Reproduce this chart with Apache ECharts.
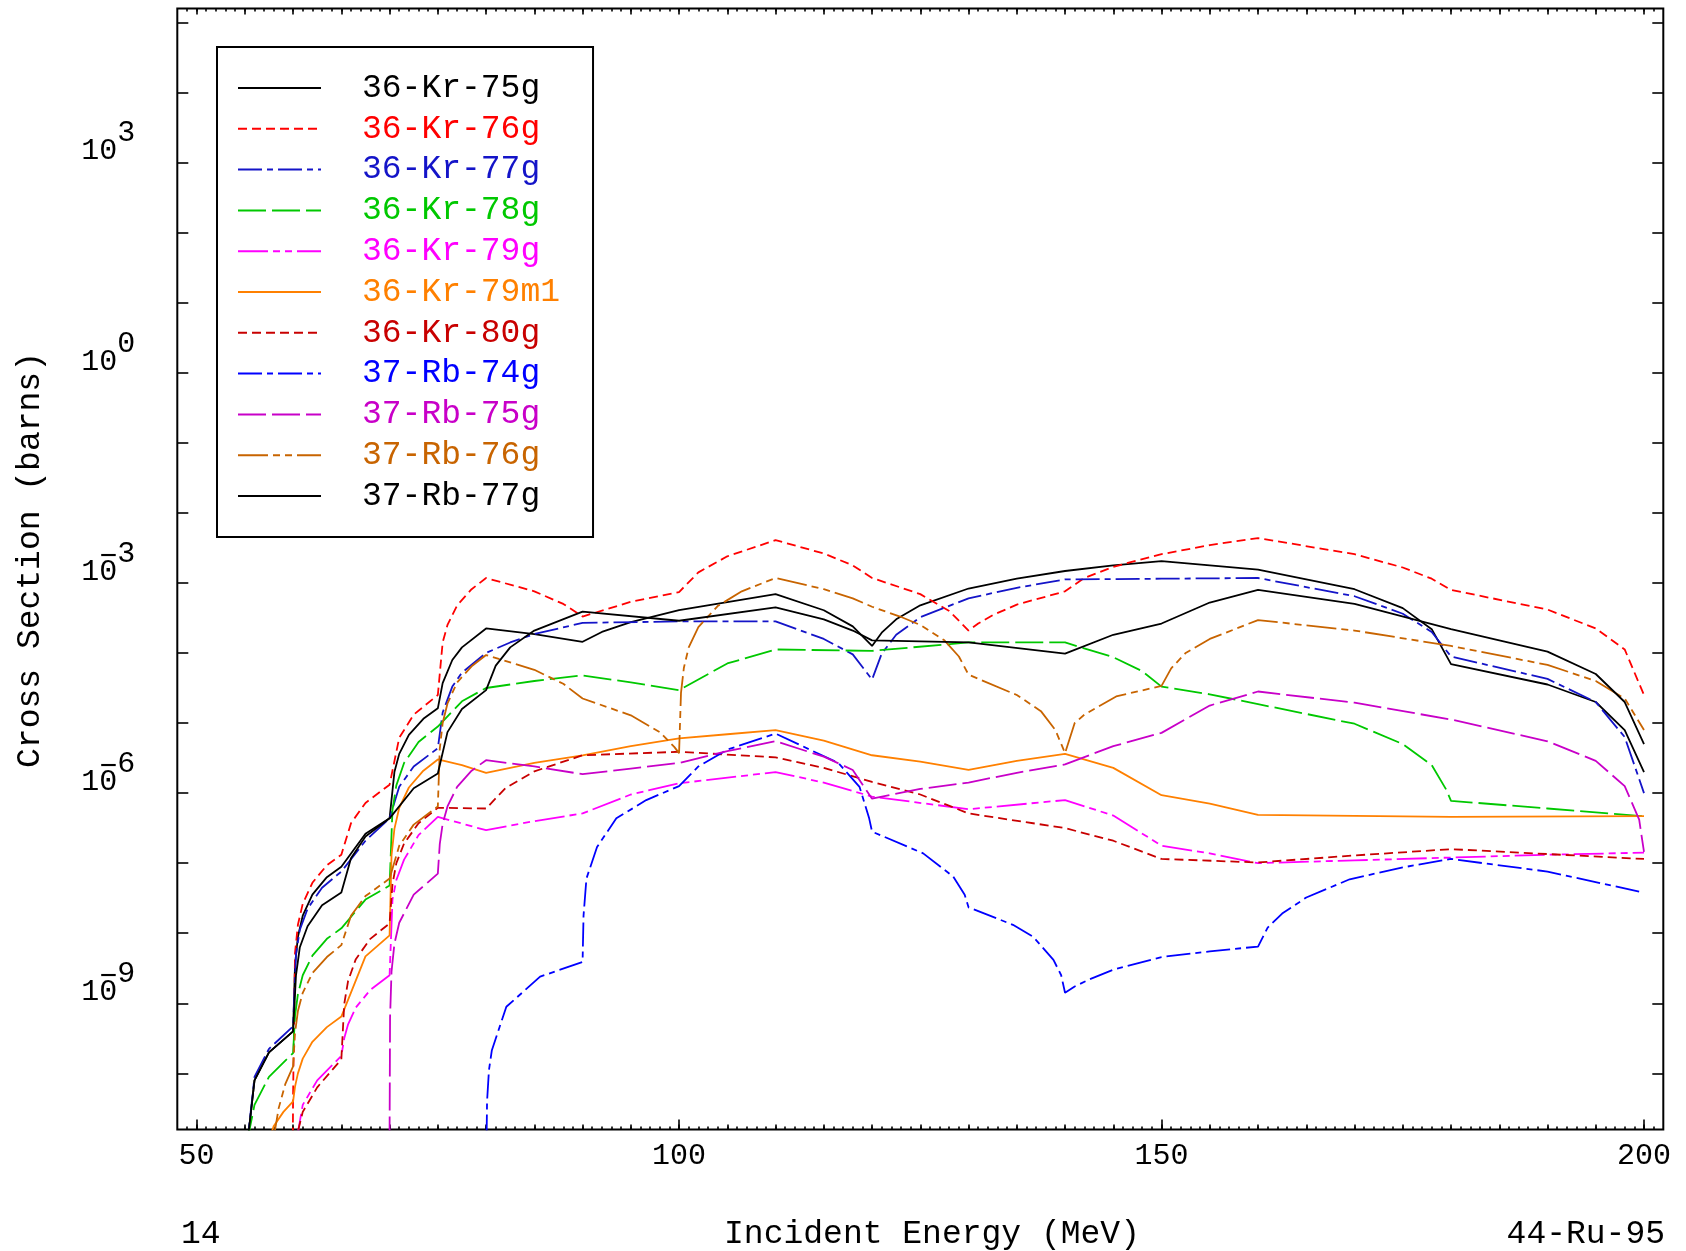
<!DOCTYPE html>
<html><head><meta charset="utf-8">
<script src="https://cdn.jsdelivr.net/npm/echarts@6.0.0/dist/echarts.min.js"></script>
<style>html,body{margin:0;padding:0;background:#fff}#c{width:1686px;height:1251px}</style>
</head><body><div id="c"></div><script>
const FONT = '"Liberation Mono","DejaVu Sans Mono",monospace';
// [incident energy (MeV), log10(cross section / barns)]
const kr75g = [[55.1,-11.2],[56,-10.1],[57.5,-9.7],[60,-9.4],[60.2,-8.45],[60.5,-8.05],[61,-7.75],[62,-7.45],[63.5,-7.2],[65,-7.05],[67.5,-6.58],[70,-6.36],[70.5,-5.7],[71,-5.44],[72,-5.17],[73.5,-4.94],[75,-4.79],[75.5,-4.43],[76.5,-4.1],[77.5,-3.92],[80,-3.65],[85,-3.73],[90,-3.84],[92,-3.7],[95,-3.56],[100,-3.39],[110,-3.16],[115,-3.39],[118,-3.62],[120,-3.9],[121,-3.71],[122.5,-3.52],[125,-3.32],[130,-3.08],[135,-2.94],[140,-2.83],[145,-2.75],[150,-2.69],[160,-2.81],[170,-3.09],[175,-3.36],[178,-3.66],[180,-4.16],[190,-4.45],[195,-4.7],[198,-5.1],[200,-5.7]];
const kr76g = [[59.95,-11.5],[60,-10.3],[60.2,-8.28],[60.5,-7.88],[61,-7.58],[62,-7.28],[63.5,-7.03],[65,-6.88],[66,-6.43],[67.5,-6.14],[70,-5.88],[71,-5.21],[72.5,-4.88],[75,-4.6],[75.5,-3.85],[76,-3.6],[77,-3.32],[78.5,-3.09],[80,-2.93],[85,-3.12],[88,-3.3],[90,-3.48],[95,-3.27],[100,-3.13],[102,-2.85],[105,-2.62],[110,-2.39],[115,-2.58],[118,-2.75],[120,-2.93],[125,-3.16],[128,-3.4],[130,-3.68],[131,-3.58],[132.5,-3.46],[135,-3.31],[140,-3.12],[142,-2.93],[145,-2.77],[150,-2.59],[155,-2.46],[160,-2.36],[170,-2.59],[175,-2.78],[178,-2.94],[180,-3.1],[190,-3.38],[195,-3.65],[198,-3.95],[200,-4.6]];
const kr77g = [[55.1,-11.2],[56,-10.05],[57.5,-9.65],[60,-9.33],[60.3,-8.3],[60.7,-7.95],[61.5,-7.65],[63,-7.35],[65,-7.12],[67.5,-6.68],[70,-6.36],[71,-5.91],[72.5,-5.62],[75,-5.36],[75.5,-4.85],[76.5,-4.48],[77.5,-4.28],[80,-4.0],[82.5,-3.85],[85,-3.73],[90,-3.57],[100,-3.55],[110,-3.55],[115,-3.8],[118,-4.02],[120,-4.38],[121,-4.01],[122.5,-3.74],[125,-3.49],[130,-3.22],[135,-3.07],[140,-2.95],[150,-2.94],[160,-2.93],[170,-3.19],[175,-3.44],[178,-3.7],[180,-4.05],[190,-4.37],[195,-4.7],[198,-5.2],[200,-6.0]];
const kr78g = [[55.2,-11.0],[56,-10.45],[57.5,-10.05],[60,-9.71],[60.2,-9.18],[60.5,-8.87],[61,-8.6],[62,-8.32],[63.5,-8.08],[65,-7.93],[67.5,-7.52],[70,-7.32],[70.3,-6.24],[70.7,-5.89],[71.5,-5.57],[73,-5.27],[75,-5.05],[77.5,-4.69],[80,-4.5],[85,-4.4],[90,-4.32],[95,-4.42],[100,-4.53],[105,-4.15],[110,-3.95],[120,-3.97],[130,-3.85],[140,-3.85],[145,-4.06],[148,-4.26],[150,-4.48],[155,-4.59],[160,-4.73],[170,-5.01],[175,-5.3],[178,-5.6],[179.5,-5.95],[180,-6.11],[190,-6.22],[200,-6.33]];
const kr79g = [[60.3,-11.0],[61,-10.45],[62.5,-10.1],[65,-9.75],[65.3,-9.5],[65.7,-9.3],[66.5,-9.06],[68,-8.81],[70,-8.6],[70.3,-7.52],[70.7,-7.24],[71.5,-6.95],[73,-6.6],[75,-6.34],[80,-6.53],[85,-6.4],[90,-6.29],[95,-6.02],[100,-5.86],[110,-5.7],[115,-5.85],[120,-6.05],[130,-6.23],[140,-6.1],[145,-6.32],[150,-6.75],[155,-6.86],[160,-7.0],[170,-6.96],[180,-6.92],[190,-6.88],[200,-6.85]];
const kr79m1 = [[57.4,-11.0],[58,-10.75],[59,-10.55],[60,-10.4],[60.2,-10.19],[60.5,-10.0],[61,-9.79],[62,-9.55],[63.5,-9.34],[65,-9.19],[67.5,-8.33],[70,-8.03],[70.2,-6.89],[70.5,-6.51],[71,-6.21],[72,-5.92],[73.5,-5.68],[75,-5.52],[77.5,-5.6],[80,-5.71],[85,-5.57],[90,-5.46],[95,-5.33],[100,-5.22],[105,-5.16],[110,-5.1],[115,-5.25],[120,-5.46],[125,-5.55],[130,-5.67],[135,-5.54],[140,-5.44],[145,-5.64],[150,-6.03],[155,-6.15],[160,-6.31],[180,-6.34],[200,-6.33]];
const kr80g = [[60.2,-11.0],[61,-10.55],[62.5,-10.2],[65,-9.8],[65.3,-9.01],[65.7,-8.68],[66.5,-8.37],[68,-8.08],[70,-7.86],[70.3,-7.3],[70.7,-7.0],[71.5,-6.72],[73,-6.43],[75,-6.21],[80,-6.22],[82,-5.93],[85,-5.69],[90,-5.46],[100,-5.41],[110,-5.49],[115,-5.64],[120,-5.84],[125,-6.02],[130,-6.29],[140,-6.5],[145,-6.68],[150,-6.94],[160,-6.99],[170,-6.89],[180,-6.8],[200,-6.94]];
const rb74g = [[80.0,-11.5],[80.1,-10.4],[80.3,-9.95],[80.6,-9.67],[82.1,-9.05],[85.6,-8.62],[90,-8.41],[90.1,-7.75],[90.4,-7.22],[91.5,-6.77],[93.5,-6.36],[96.6,-6.1],[100,-5.9],[102,-5.62],[105,-5.38],[110,-5.15],[116.5,-5.57],[118.7,-5.91],[119.7,-6.36],[120,-6.55],[125.3,-6.86],[128.4,-7.19],[129.6,-7.45],[130,-7.63],[134.6,-7.88],[136.7,-8.05],[138.8,-8.38],[139.6,-8.6],[140,-8.85],[141,-8.76],[142.5,-8.66],[145,-8.52],[150,-8.34],[155,-8.26],[160,-8.19],[161,-7.92],[162.5,-7.72],[165,-7.49],[169.5,-7.23],[175,-7.06],[180,-6.94],[190,-7.12],[200,-7.42]];
const rb75g = [[69.98,-11.5],[70.05,-9.2],[70.2,-8.55],[70.5,-8.15],[71,-7.85],[72.5,-7.45],[75,-7.15],[75.2,-6.73],[75.5,-6.44],[76,-6.19],[77,-5.91],[78.5,-5.68],[80,-5.53],[85,-5.62],[90,-5.73],[95,-5.65],[100,-5.57],[105,-5.4],[110,-5.26],[115,-5.48],[118,-5.67],[120,-6.08],[125,-5.94],[130,-5.85],[135,-5.71],[140,-5.59],[145,-5.33],[150,-5.14],[155,-4.75],[160,-4.55],[170,-4.71],[180,-4.95],[190,-5.26],[195,-5.54],[198,-5.9],[199.5,-6.38],[200,-6.84]];
const rb76g = [[57.9,-11.0],[58.5,-10.5],[59.2,-10.15],[60,-9.9],[60.2,-9.42],[60.5,-9.11],[61,-8.85],[62,-8.57],[63.5,-8.34],[65,-8.17],[66,-7.75],[67.5,-7.47],[70,-7.22],[71,-6.75],[72.5,-6.45],[75,-6.19],[75.2,-5.37],[75.5,-5.0],[76,-4.72],[77,-4.42],[78.5,-4.19],[80,-4.03],[85,-4.24],[88,-4.44],[90,-4.65],[95,-4.89],[98,-5.13],[99.5,-5.34],[100,-5.43],[100.2,-4.57],[100.5,-4.21],[101,-3.92],[102,-3.63],[104,-3.33],[106.5,-3.12],[110,-2.93],[115,-3.09],[118,-3.22],[120,-3.34],[122.9,-3.48],[125,-3.6],[127.5,-3.82],[129,-4.05],[130,-4.31],[135,-4.6],[137.5,-4.83],[139,-5.1],[140,-5.43],[141,-5.0],[142,-4.88],[145.3,-4.62],[150,-4.47],[151,-4.22],[152.5,-4.0],[155,-3.8],[160,-3.53],[170,-3.68],[180,-3.9],[190,-4.17],[195,-4.4],[198,-4.65],[200,-5.1]];
const rb77g = [[55.1,-11.2],[56,-10.1],[57.5,-9.7],[60,-9.4],[60.3,-8.6],[60.7,-8.2],[61.5,-7.9],[63,-7.6],[65,-7.42],[66,-6.93],[67.5,-6.62],[70,-6.36],[72.5,-5.93],[75,-5.72],[76,-5.13],[77.5,-4.8],[80,-4.53],[81,-4.18],[82.5,-3.92],[85,-3.68],[90,-3.41],[100,-3.54],[110,-3.35],[115,-3.52],[118,-3.68],[120,-3.82],[130,-3.85],[140,-4.01],[145,-3.74],[150,-3.58],[155,-3.28],[160,-3.1],[170,-3.3],[180,-3.66],[190,-3.98],[195,-4.3],[198,-4.7],[200,-5.3]];

const seriesNames = ['36-Kr-75g','36-Kr-76g','36-Kr-77g','36-Kr-78g','36-Kr-79g','36-Kr-79m1','36-Kr-80g','37-Rb-74g','37-Rb-75g','37-Rb-76g','37-Rb-77g'];
const seriesData = [kr75g,kr76g,kr77g,kr78g,kr79g,kr79m1,kr80g,rb74g,rb75g,rb76g,rb77g];
const seriesColors = ['#000000','#ff0000','#1414c8','#00c800','#ff00ff','#ff8000','#c80000','#0000ff','#c800c8','#c86400','#000000'];
const D_SHORT = [9,5], D_DOT = [24,5,6,5], D_LONG = [28,6], D_MIX = [30,5,7,5,7,5];
const seriesDash = ['solid',D_SHORT,D_DOT,D_LONG,D_MIX,'solid',D_SHORT,D_DOT,D_LONG,D_MIX,'solid'];

const xLabelValues = [50,100,150,200];
const yLabelExps = [-9,-6,-3,0,3];
const yNegExps = [-9,-6,-3];

function steps(a,b,s){const r=[];for(let v=a;v<=b+1e-9;v+=s) r.push(Math.round(v*1000)/1000);return r;}
const yTickExps = steps(-10,5,1);

function xAxisDef(pos, ticks, len, withLabels){
  return {type:'value', min:48, max:202, position:pos,
    axisLine:{show:false, onZero:false}, splitLine:{show:false},
    axisTick:{show:true, inside:true, length:len, customValues:ticks, lineStyle:{color:'#000', width:1.6}},
    axisLabel: withLabels ? {show:true, customValues:xLabelValues, margin:12, color:'#000', fontFamily:FONT, fontSize:30} : {show:false}
  };
}
// raise: vertical lift of the glyph centre above the tick, via bottom padding of a rich token
function yLabel(values, margin, raise, fmt){
  return {show:true, customValues:values, margin:margin, verticalAlign:'middle',
    formatter: v => '{t|' + fmt(v) + '}',
    rich:{ t:{fontFamily:FONT, fontSize:30, color:'#000', height:30, padding:[0,0,2*raise,0]} } };
}
function yAxisDef(pos, ticks, label){
  return {type:'value', min:-10.8, max:5.2, position:pos,
    axisLine:{show:false, onZero:false}, splitLine:{show:false},
    axisTick: ticks ? {show:true, inside:true, length:11, customValues:yTickExps, lineStyle:{color:'#000', width:1.6}} : {show:false},
    axisLabel: label || {show:false}
  };
}

const chart = echarts.init(document.getElementById('c'), null, {renderer:'canvas'});
chart.setOption({
  animation:false,
  backgroundColor:'#ffffff',
  grid:{left:177.3, top:8.4, width:1486, height:1121, show:true, borderColor:'#000', borderWidth:2, backgroundColor:'transparent'},
  xAxis:[
    xAxisDef('bottom', xLabelValues, 10, true),
    xAxisDef('bottom', steps(50,200,5), 5, false),
    xAxisDef('bottom', steps(49,201,1), 3, false),
    xAxisDef('top', steps(50,200,5), 6, false),
    xAxisDef('top', steps(49,201,1), 3, false)
  ],
  yAxis:[
    yAxisDef('left', true, yLabel(yLabelExps, 60, 11, () => '10')),
    yAxisDef('right', true, null),
    yAxisDef('left', false, yLabel(yLabelExps, 42, 29, v => String(Math.abs(Math.round(v))))),
    yAxisDef('left', false, yLabel(yNegExps, 60, 26, () => '\u2212'))
  ],
  legend:{
    orient:'vertical', left:217, top:47, padding:[24,33,24,20],
    itemWidth:83, itemHeight:14, itemGap:6.8,
    borderColor:'#000', borderWidth:2, backgroundColor:'#fff',
    selectedMode:false,
    itemStyle:{opacity:0},
    textStyle:{fontFamily:FONT, fontSize:33, lineHeight:34, padding:[0,0,0,36]},
    data: seriesNames.map((n,i)=>({name:n, textStyle:{color:seriesColors[i]}}))
  },
  graphic:[
    {type:'text', x:30, y:560, rotation:Math.PI/2, style:{text:'Cross Section (barns)', fontFamily:FONT, fontSize:33, fill:'#000', align:'center', verticalAlign:'middle'}},
    {type:'text', x:181, y:1234, style:{text:'14', fontFamily:FONT, fontSize:33, fill:'#000', align:'left', verticalAlign:'middle'}},
    {type:'text', x:932, y:1234, style:{text:'Incident Energy (MeV)', fontFamily:FONT, fontSize:33, fill:'#000', align:'center', verticalAlign:'middle'}},
    {type:'text', x:1665, y:1234, style:{text:'44-Ru-95', fontFamily:FONT, fontSize:33, fill:'#000', align:'right', verticalAlign:'middle'}}
  ],
  series: seriesNames.map((n,i)=>({
    type:'line', name:n, data:seriesData[i], xAxisIndex:0, yAxisIndex:0,
    symbol:'none', showSymbol:false, clip:true, silent:true,
    lineStyle:{color:seriesColors[i], width:1.8, type:seriesDash[i]},
    itemStyle:{color:seriesColors[i]}
  }))
});
</script></body></html>
